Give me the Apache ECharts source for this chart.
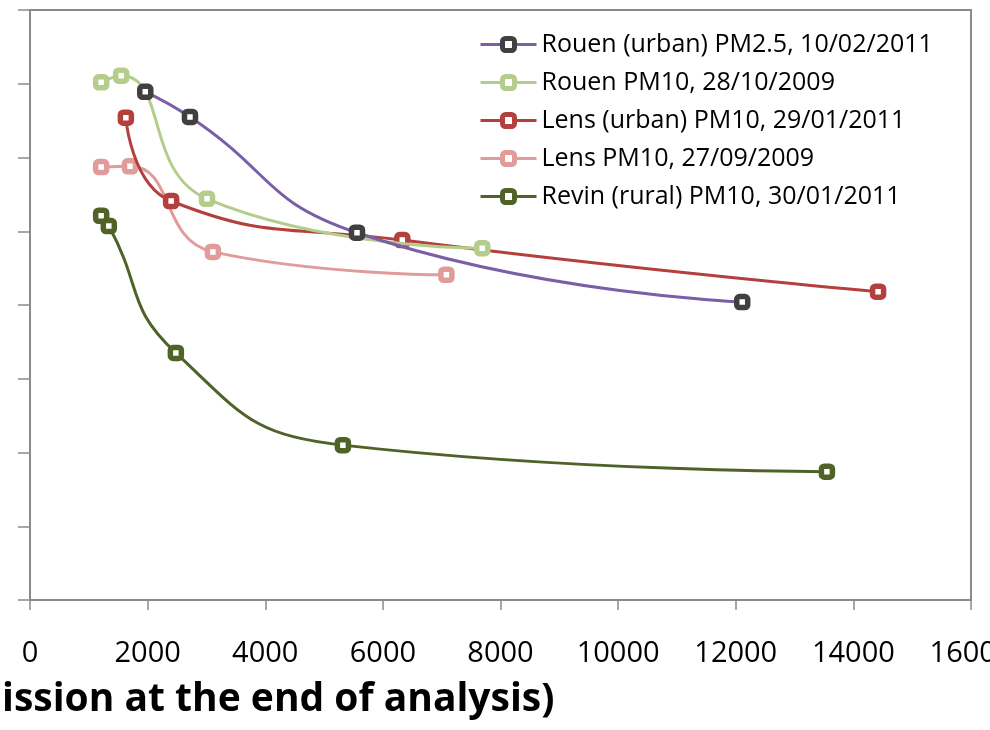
<!DOCTYPE html>
<html>
<head>
<meta charset="utf-8">
<script src="https://cdn.jsdelivr.net/npm/echarts@6/dist/echarts.min.js"></script>
<style>
  html, body { margin: 0; padding: 0; background: #fff; }
  #main { width: 990px; height: 730px; }
</style>
</head>
<body>
<div id="main"></div>
<script>
// data (x, y in chart units)
var seriesNames = [
  'Rouen (urban) PM2.5, 10/02/2011',
  'Rouen PM10, 28/10/2009',
  'Lens (urban) PM10, 29/01/2011',
  'Lens PM10, 27/09/2009',
  'Revin (rural) PM10, 30/01/2011'
];
var rouenUrban = [[1960, 6.89], [2720, 6.55], [5560, 4.98], [12110, 4.04]];
var rouenPM10 = [[1210, 7.02], [1550, 7.11], [3010, 5.44], [7690, 4.77]];
var lensUrban = [[1630, 6.54], [2400, 5.41], [6330, 4.88], [14420, 4.18]];
var lensPM10 = [[1210, 5.87], [1700, 5.88], [3110, 4.72], [7080, 4.41]];
var revinRural = [[1210, 5.21], [1340, 5.07], [2480, 3.35], [5320, 2.10], [13550, 1.74]];
var xTicks = [0, 2000, 4000, 6000, 8000, 10000, 12000, 14000, 16000];

var lineColors = ['#7a5fa6', '#b4cd8c', '#b4403e', '#e19b9b', '#4f6228'];
var markColors = ['#404040', '#b4cd8c', '#b4403e', '#e19b9b', '#4f6228'];
var allData = [rouenUrban, rouenPM10, lensUrban, lensPM10, revinRural];

var myChart = echarts.init(document.getElementById('main'));
var font = '"Open Sans", Lato, sans-serif';

var series = [];
for (var i = 0; i < allData.length; i++) {
  series.push({
    name: seriesNames[i],
    type: 'line',
    smooth: 0.5,
    data: allData[i],
    symbol: 'roundRect',
    symbolSize: 11,
    lineStyle: { color: lineColors[i], width: 3 },
    itemStyle: { color: '#fff', borderColor: markColors[i], borderWidth: 5.5 },
    z: 10 - i
  });
}

var option = {
  animation: false,
  grid: {
    left: 30, right: 19, top: 10, bottom: 130,
    outerBoundsMode: 'none', containLabel: false,
    show: true, borderColor: '#8a8a8a', borderWidth: 2
  },
  legend: {
    orient: 'vertical',
    left: 474, top: 27,
    itemWidth: 56, itemHeight: 15, itemGap: 13,
    data: seriesNames,
    lineStyle: { width: 3 },
    itemStyle: { borderWidth: 5 },
    textStyle: { fontFamily: font, fontSize: 25, color: '#000' }
  },
  title: {
    text: 'ission at the end of analysis)',
    left: -3, top: 675,
    textStyle: { fontFamily: font, fontSize: 39, fontWeight: 'bold', color: '#000' }
  },
  xAxis: {
    type: 'value',
    min: 0, max: 16000, interval: 2000,
    axisLine: { show: true, lineStyle: { color: '#8a8a8a', width: 2 } },
    axisTick: { show: true, length: 10, lineStyle: { color: '#8a8a8a', width: 1.5 } },
    splitLine: { show: false },
    axisLabel: {
      margin: 39, fontFamily: font, fontSize: 29, color: '#000',
      formatter: function (v) { return xTicks.indexOf(v) >= 0 ? String(v) : ''; }
    }
  },
  yAxis: {
    type: 'value',
    min: 0, max: 8, interval: 1,
    axisLine: { show: true, lineStyle: { color: '#8a8a8a', width: 2 } },
    axisTick: { show: true, length: 12, lineStyle: { color: '#8a8a8a', width: 1.5 } },
    splitLine: { show: false },
    axisLabel: { show: false }
  },
  series: series
};

myChart.setOption(option);
</script>
</body>
</html>
